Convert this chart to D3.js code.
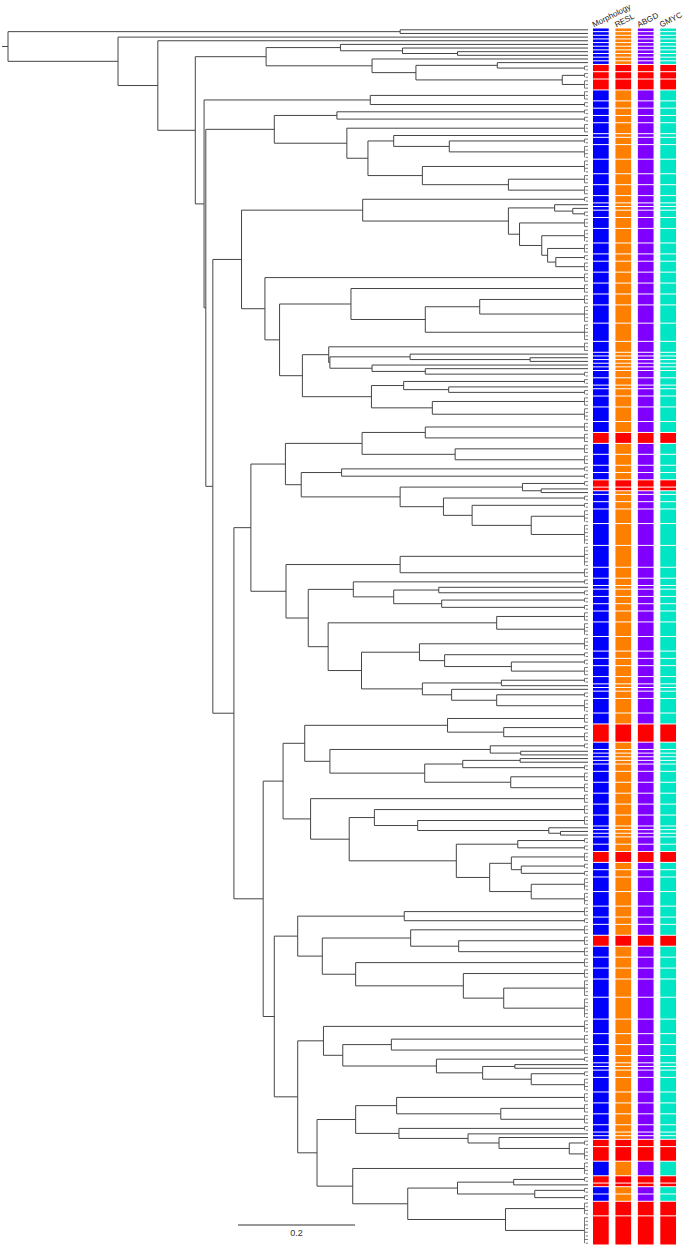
<!DOCTYPE html>
<html><head><meta charset="utf-8">
<script src="https://cdn.jsdelivr.net/npm/d3@7"></script>
<style>body{margin:0;background:#fff}svg{display:block}</style>
</head><body>
<svg id="chart" width="685" height="1248"></svg>
<script>
// Tree: leaves are species blocks "<class><tips>" (B = consistent, R = conflicting/red,
// lowercase = same block as the previous leaf). Internal-node labels = distance from root.
const treeNewick = `
(
 (B1,B1)0.670,
 (B1,
  (B1,
   (
    (
     (B1,(B1,(B1,B1)0.768)0.674)0.568,
     (B1,((B1,R2)0.836,(R2,R3)0.947)0.697)0.622
    )0.441,
    (
     (B3,B2)0.619,
     (
      ((B2,B2)0.562,(B3,((B1,(B2,B4)0.754)0.659,(B4,(B3,B3)0.855)0.708)0.615)0.579)0.455,
      (
       (
        (B2,((B1,(B1,B2)0.965)0.934,(B3,(B4,(B3,(B2,B3)0.936)0.922)0.912)0.874)0.855)0.606,
        (B3,
         (
          (B3,((B3,B5)0.806,B5)0.713)0.586,
          (
           (B3,((B1,(B1,B1)0.892)0.687,(B1,(B1,B2)0.713)0.622)0.550)0.548,
           ((B2,(B1,B2)0.753)0.676,(B3,B4)0.725)0.621
          )0.503
         )0.464
        )0.439
       )0.399,
       (
        (
         (
          ((B3,R3)0.713,(B3,B3)0.764)0.605,
          ((B2,B2)0.570,((R2,(R1,B1)0.911)0.879,(B2,(B2,(B4,B6)0.894)0.793)0.744)0.670)0.501
         )0.474,
         (
          (B6,B3)0.670,
          (
           (B2,((B1,B2)0.736,(B2,B2)0.741)0.659)0.590,
           ((B3,B4)0.835,((B4,(B2,(B2,B3)0.860)0.746)0.703,((B2,B1)0.843,(B1,(B2,B4)0.835)0.758)0.708)0.604)0.547
          )0.513
         )0.475
        )0.415,
        (
         (
          ((B3,(R2,r3)0.847)0.751,((B2,(B1,B1)0.876)0.824,(((B1,B1)0.875,B2)0.777,(B3,B3)0.859)0.712)0.550)0.507,
          (B3,((B3,(B3,(B1,(B1,B1)0.944)0.924)0.700)0.626,((B2,B2)0.871,((R3,(B2,B2)0.877)0.860,(B4,B4)0.894)0.823)0.766)0.583)0.517
         )0.470,
         (
          ((B3,B2)0.677,((B3,(R3,B3)0.770)0.688,(B3,(B3,(B5,B6)0.847)0.778)0.594)0.537)0.495,
          (
           (B4,((B3,B3)0.655,(B2,((B1,B1)0.866,(B2,B4)0.894)0.811)0.732)0.572)0.539,
           (((B3,(B3,B3)0.842)0.664,(B2,(B1,(B1,(R2,R4)0.959)0.839)0.786)0.668)0.594,(B4,(((R2,R1)0.864,(B2,B2)0.900)0.768,(R4,R8)0.850)0.683)0.589)0.528
          )0.495
         )0.455
        )0.436
       )0.386
      )0.350
     )0.338
    )0.335
   )0.320
  )0.256
 )0.188
)0`;
const tipDepth = 0.991;
const columns = ["Morphology", "RESL", "ABGD", "GMYC"];
const columnColors = ["#0000ff", "#ff8000", "#8000ff", "#00e5c4"];
const conflictColor = "#ff0000";
const scaleBarValue = 0.2;
const scaleBarLabel = "0.2";

// ---- parse ----
function parseNewick(str) {
  const s = str.replace(/\s+/g, "");
  let i = 0;
  function label() { let l = ""; while (i < s.length && !",()".includes(s[i])) l += s[i++]; return l; }
  function node() {
    if (s[i] === "(") {
      i++;
      const children = [node()];
      while (s[i] === ",") { i++; children.push(node()); }
      i++; // ')'
      return { depth: +label(), children };
    }
    const name = label();
    return { name, cls: name[0], size: +name.slice(1) };
  }
  return node();
}

const root = d3.hierarchy(parseNewick(treeNewick));
const leaves = root.leaves();
let cum = 0;
leaves.forEach(l => { l.start = cum; cum += l.data.size; });
const nTips = cum;

const svg = d3.select("#chart");
const x = d3.scaleLinear().domain([0, tipDepth]).range([8, 588]);
const y = d3.scaleLinear().domain([0, nTips]).range([28, 1245]);
const tipX = x(tipDepth), combX = tipX - 3.5;

root.eachAfter(n => {
  if (!n.children) {
    n.yc = y(n.start + n.data.size / 2);
    n.xp = n.data.size > 1 ? combX : tipX;
  } else {
    n.yc = (n.children[0].yc + n.children[n.children.length - 1].yc) / 2;
    n.xp = x(n.data.depth);
  }
});

const g = svg.append("g").attr("stroke", "#454545").attr("stroke-width", 1).attr("fill", "none");
const segs = [];
segs.push([2, root.yc, root.xp, root.yc]);
root.each(n => {
  if (n.children) {
    const c = n.children;
    segs.push([n.xp, c[0].yc, n.xp, c[c.length - 1].yc]);
    c.forEach(ch => segs.push([n.xp, ch.yc, ch.xp, ch.yc]));
  }
});
g.selectAll("line").data(segs).join("line")
  .attr("x1", d => d[0]).attr("y1", d => d[1]).attr("x2", d => d[2]).attr("y2", d => d[3]);

// small terminal brackets for multi-tip species
const combs = leaves.filter(l => l.data.size > 1);
svg.append("g").attr("stroke", "#555").attr("stroke-width", 0.8).attr("fill", "none")
  .selectAll("path").data(combs).join("path")
  .attr("d", l => {
    let p = "";
    for (let k = 0; k < l.data.size; k++) {
      const ty = y(l.start + k + 0.5);
      p += `M${tipX},${ty}H${combX + (k % 2) * 1.2}`;
    }
    p += `M${combX},${y(l.start + 0.5)}V${y(l.start + l.data.size - 0.5)}`;
    return p;
  });

// ---- blocks ----
const blocks = [];
leaves.forEach(l => {
  const c = l.data.cls;
  if (c === c.toLowerCase() && blocks.length) {
    blocks[blocks.length - 1].end = l.start + l.data.size;
  } else {
    blocks.push({ cls: c.toUpperCase(), start: l.start, end: l.start + l.data.size });
  }
});

const band = d3.scaleBand().domain(columns).range([593, 676]).paddingInner(0.3);
columns.forEach((col, ci) => {
  svg.append("g").selectAll("rect").data(blocks).join("rect")
    .attr("x", band(col)).attr("width", band.bandwidth())
    .attr("y", d => y(d.start) + 0.5)
    .attr("height", d => Math.max(0.8, y(d.end) - y(d.start) - 1))
    .attr("fill", d => d.cls === "R" ? conflictColor : columnColors[ci]);
  svg.append("text")
    .attr("transform", `translate(${band(col) + 1},27.5) rotate(-27)`)
    .attr("font-family", "Liberation Sans, Arial, sans-serif")
    .attr("font-size", 8).attr("fill", "#222")
    .text(col);
});

// ---- scale bar ----
const sbX = 238, sbY = 1225, sbW = x(scaleBarValue) - x(0);
svg.append("line").attr("x1", sbX).attr("x2", sbX + sbW).attr("y1", sbY).attr("y2", sbY)
  .attr("stroke", "#333").attr("stroke-width", 1);
svg.append("text").attr("x", sbX + sbW / 2).attr("y", sbY + 11).attr("text-anchor", "middle")
  .attr("font-family", "Liberation Sans, Arial, sans-serif").attr("font-size", 9).attr("fill", "#333")
  .text(scaleBarLabel);
</script>
</body></html>
